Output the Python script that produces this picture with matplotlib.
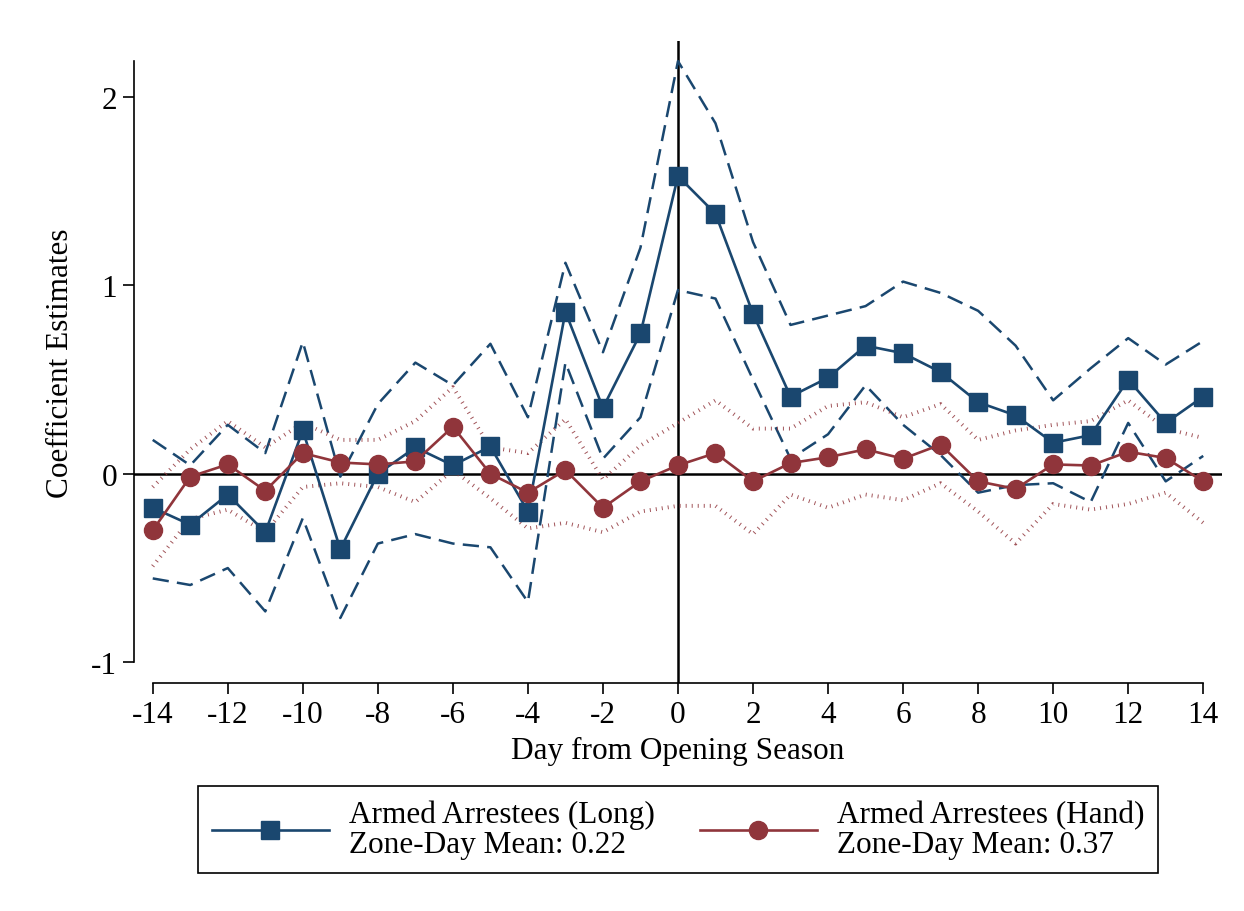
import numpy as np
import matplotlib
matplotlib.use("Agg")
import matplotlib.pyplot as plt
from matplotlib.lines import Line2D

plt.rcParams["font.family"] = ["Liberation Serif", "DejaVu Serif"]

# event days
days = np.arange(-14, 15)

# long-gun arrestees: estimate and 95% CI
long_est = [-0.18, -0.27, -0.11, -0.31, 0.23, -0.40, 0.00, 0.14, 0.045, 0.145, -0.20, 0.86, 0.35, 0.745, 1.58,
            1.38, 0.85, 0.41, 0.51, 0.68, 0.64, 0.54, 0.38, 0.31, 0.165, 0.205, 0.50, 0.27, 0.41]
long_hi = [0.18, 0.045, 0.26, 0.11, 0.70, -0.015, 0.37, 0.59, 0.47, 0.69, 0.30, 1.12, 0.645, 1.20, 2.19,
           1.86, 1.23, 0.79, 0.84, 0.89, 1.02, 0.96, 0.865, 0.68, 0.39, 0.56, 0.72, 0.58, 0.705]
long_lo = [-0.555, -0.59, -0.50, -0.73, -0.235, -0.765, -0.37, -0.32, -0.37, -0.39, -0.68, 0.59, 0.08, 0.30, 0.975,
           0.93, 0.50, 0.08, 0.21, 0.47, 0.26, 0.10, -0.10, -0.06, -0.05, -0.15, 0.27, -0.04, 0.095]

# handgun arrestees: estimate and 95% CI
hand_est = [-0.30, -0.015, 0.05, -0.09, 0.11, 0.06, 0.05, 0.066, 0.25, 0.0, -0.10, 0.02, -0.18, -0.04, 0.045,
            0.11, -0.04, 0.057, 0.088, 0.13, 0.08, 0.155, -0.04, -0.08, 0.05, 0.044, 0.117, 0.084, -0.04]
hand_hi = [-0.07, 0.13, 0.28, 0.14, 0.27, 0.18, 0.18, 0.28, 0.46, 0.14, 0.11, 0.29, -0.03, 0.15, 0.27,
           0.39, 0.24, 0.24, 0.36, 0.38, 0.30, 0.37, 0.18, 0.23, 0.26, 0.28, 0.39, 0.24, 0.19]
hand_lo = [-0.49, -0.24, -0.19, -0.31, -0.07, -0.05, -0.07, -0.15, 0.02, -0.13, -0.29, -0.26, -0.31, -0.20, -0.17,
           -0.17, -0.32, -0.11, -0.18, -0.11, -0.14, -0.05, -0.20, -0.37, -0.16, -0.19, -0.16, -0.10, -0.26]

labels = ["Armed Arrestees (Long)\nZone-Day Mean: 0.22",
          "Armed Arrestees (Hand)\nZone-Day Mean: 0.37"]

navy = "#1a476f"
maroon = "#90353b"
fs = 22.5

fig = plt.figure(figsize=(12.44, 9.12), dpi=100)
ax = fig.add_axes([0.1077, 0.25, 0.8746, 0.704])

# reference lines
ax.axhline(0, color="black", lw=1.8, zorder=1)
ax.axvline(0, color="black", lw=1.8, zorder=1)

# confidence bands
ax.plot(days, long_hi, color=navy, lw=1.8, linestyle=(0, (6.5, 3.3)), zorder=2)
ax.plot(days, long_lo, color=navy, lw=1.8, linestyle=(0, (6.5, 3.3)), zorder=2)
ax.plot(days, hand_hi, color=maroon, lw=2.8, linestyle=(0, (0.25, 1.3)), dash_capstyle="butt", alpha=0.85, zorder=2)
ax.plot(days, hand_lo, color=maroon, lw=2.8, linestyle=(0, (0.25, 1.3)), dash_capstyle="butt", alpha=0.85, zorder=2)

# point estimates
ax.plot(days, long_est, color=navy, lw=1.9, marker="s", markersize=13.5, zorder=3)
ax.plot(days, hand_est, color=maroon, lw=1.9, marker="o", markersize=13, zorder=4)

ax.set_xlim(-14.5, 14.5)
ax.set_ylim(-1.11, 2.297)
ax.set_xticks(np.arange(-14, 15, 2))
ax.set_yticks([-1, 0, 1, 2])
ax.set_yticklabels(["-1", "0", "1", "2"])
ax.set_xticklabels([str(v) for v in range(-14, 15, 2)])

ax.spines["top"].set_visible(False)
ax.spines["right"].set_visible(False)
ax.spines["left"].set_bounds(-1, 2.19)
ax.spines["bottom"].set_bounds(-14, 14)
for s in ["left", "bottom"]:
    ax.spines[s].set_linewidth(1.2)

ax.tick_params(axis="both", labelsize=fs, length=8, width=1.2, pad=4)
ax.set_xlabel("Day from Opening Season", fontsize=fs, labelpad=5)
ax.set_ylabel("Coefficient Estimates", fontsize=fs, labelpad=12)

handles = [Line2D([], [], color=navy, lw=1.9, marker="s", markersize=13.5),
           Line2D([], [], color=maroon, lw=1.9, marker="o", markersize=13)]
leg = fig.legend(handles, labels, loc="center", ncol=2, fontsize=fs,
                 bbox_to_anchor=(0.545, 0.0894),
                 frameon=True, fancybox=False, edgecolor="black", framealpha=1,
                 handlelength=3.75, handletextpad=0.64, columnspacing=1.44,
                 borderpad=0.45)
leg.get_frame().set_linewidth(1.2)
for t in leg.get_texts():
    t.set_linespacing(1.05)

fig.savefig("out.png", dpi=100)
